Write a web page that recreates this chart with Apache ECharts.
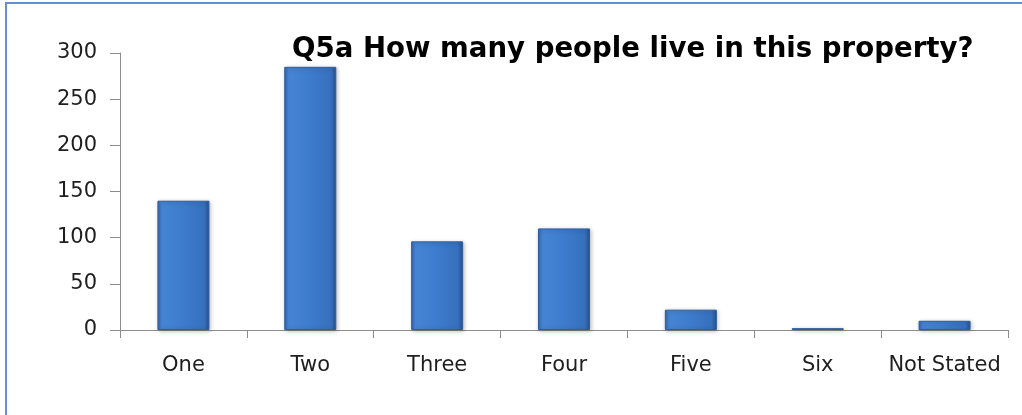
<!DOCTYPE html>
<html>
<head>
<meta charset="utf-8">
<script src="https://cdn.jsdelivr.net/npm/echarts@6/dist/echarts.min.js"></script>
<style>
html,body{margin:0;padding:0;background:#fff;}
#wrap{position:absolute;left:0;top:0;width:1022px;height:415px;overflow:hidden;}
#frame{position:absolute;left:5px;top:2px;width:1100px;height:500px;border-left:2px solid #6391cc;border-top:2px solid #6391cc;}
#chart{position:absolute;left:0;top:0;width:1022px;height:415px;}
</style>
</head>
<body>
<div id="wrap"><div id="frame"></div><div id="chart"></div></div>
<script>
var categories = ['One', 'Two', 'Three', 'Four', 'Five', 'Six', 'Not Stated'];
var values = [140, 285, 96, 110, 22, 2, 10];
var yTicks = [0, 50, 100, 150, 200, 250, 300];
var titleText = 'Q5a How many people live in this property?';

var chart = echarts.init(document.getElementById('chart'), null, {renderer: 'canvas'});
var axisColor = '#8c8c8c';
chart.setOption({
  animation: false,
  title: {
    text: titleText,
    left: 287,
    top: 31,
    textStyle: {fontFamily: 'DejaVu Sans', fontWeight: 'bold', fontSize: 27.6, color: '#000'}
  },
  grid: {left: 120, right: 14, top: 53, bottom: 85, containLabel: false},
  xAxis: {
    type: 'category',
    data: categories,
    axisLine: {lineStyle: {color: axisColor, width: 1}},
    axisTick: {show: true, length: 8, interval: 0, alignWithLabel: false, lineStyle: {color: axisColor}},
    axisLabel: {interval: 0, margin: 25, fontFamily: 'DejaVu Sans', fontSize: 21, color: '#1e1e1e'}
  },
  yAxis: {
    type: 'value',
    min: yTicks[0],
    max: yTicks[yTicks.length - 1],
    interval: 50,
    axisLine: {show: true, lineStyle: {color: axisColor, width: 1}},
    axisTick: {show: true, length: 10, lineStyle: {color: axisColor}},
    splitLine: {show: false},
    axisLabel: {margin: 23, fontFamily: 'DejaVu Sans', fontSize: 21, color: '#1e1e1e'}
  },
  series: [{
    type: 'bar',
    data: values,
    barWidth: '41%',
    itemStyle: {
      color: new echarts.graphic.LinearGradient(0, 0, 1, 0, [
        {offset: 0, color: '#3566ad'},
        {offset: 0.08, color: '#4684d4'},
        {offset: 0.5, color: '#3d7bcc'},
        {offset: 0.9, color: '#3670bd'},
        {offset: 1, color: '#28508c'}
      ]),
      borderColor: '#2e5c9c',
      borderWidth: 1,
      shadowColor: 'rgba(0,0,0,0.25)',
      shadowBlur: 4,
      shadowOffsetX: 1,
      shadowOffsetY: 1
    }
  }]
});
</script>
</body>
</html>
